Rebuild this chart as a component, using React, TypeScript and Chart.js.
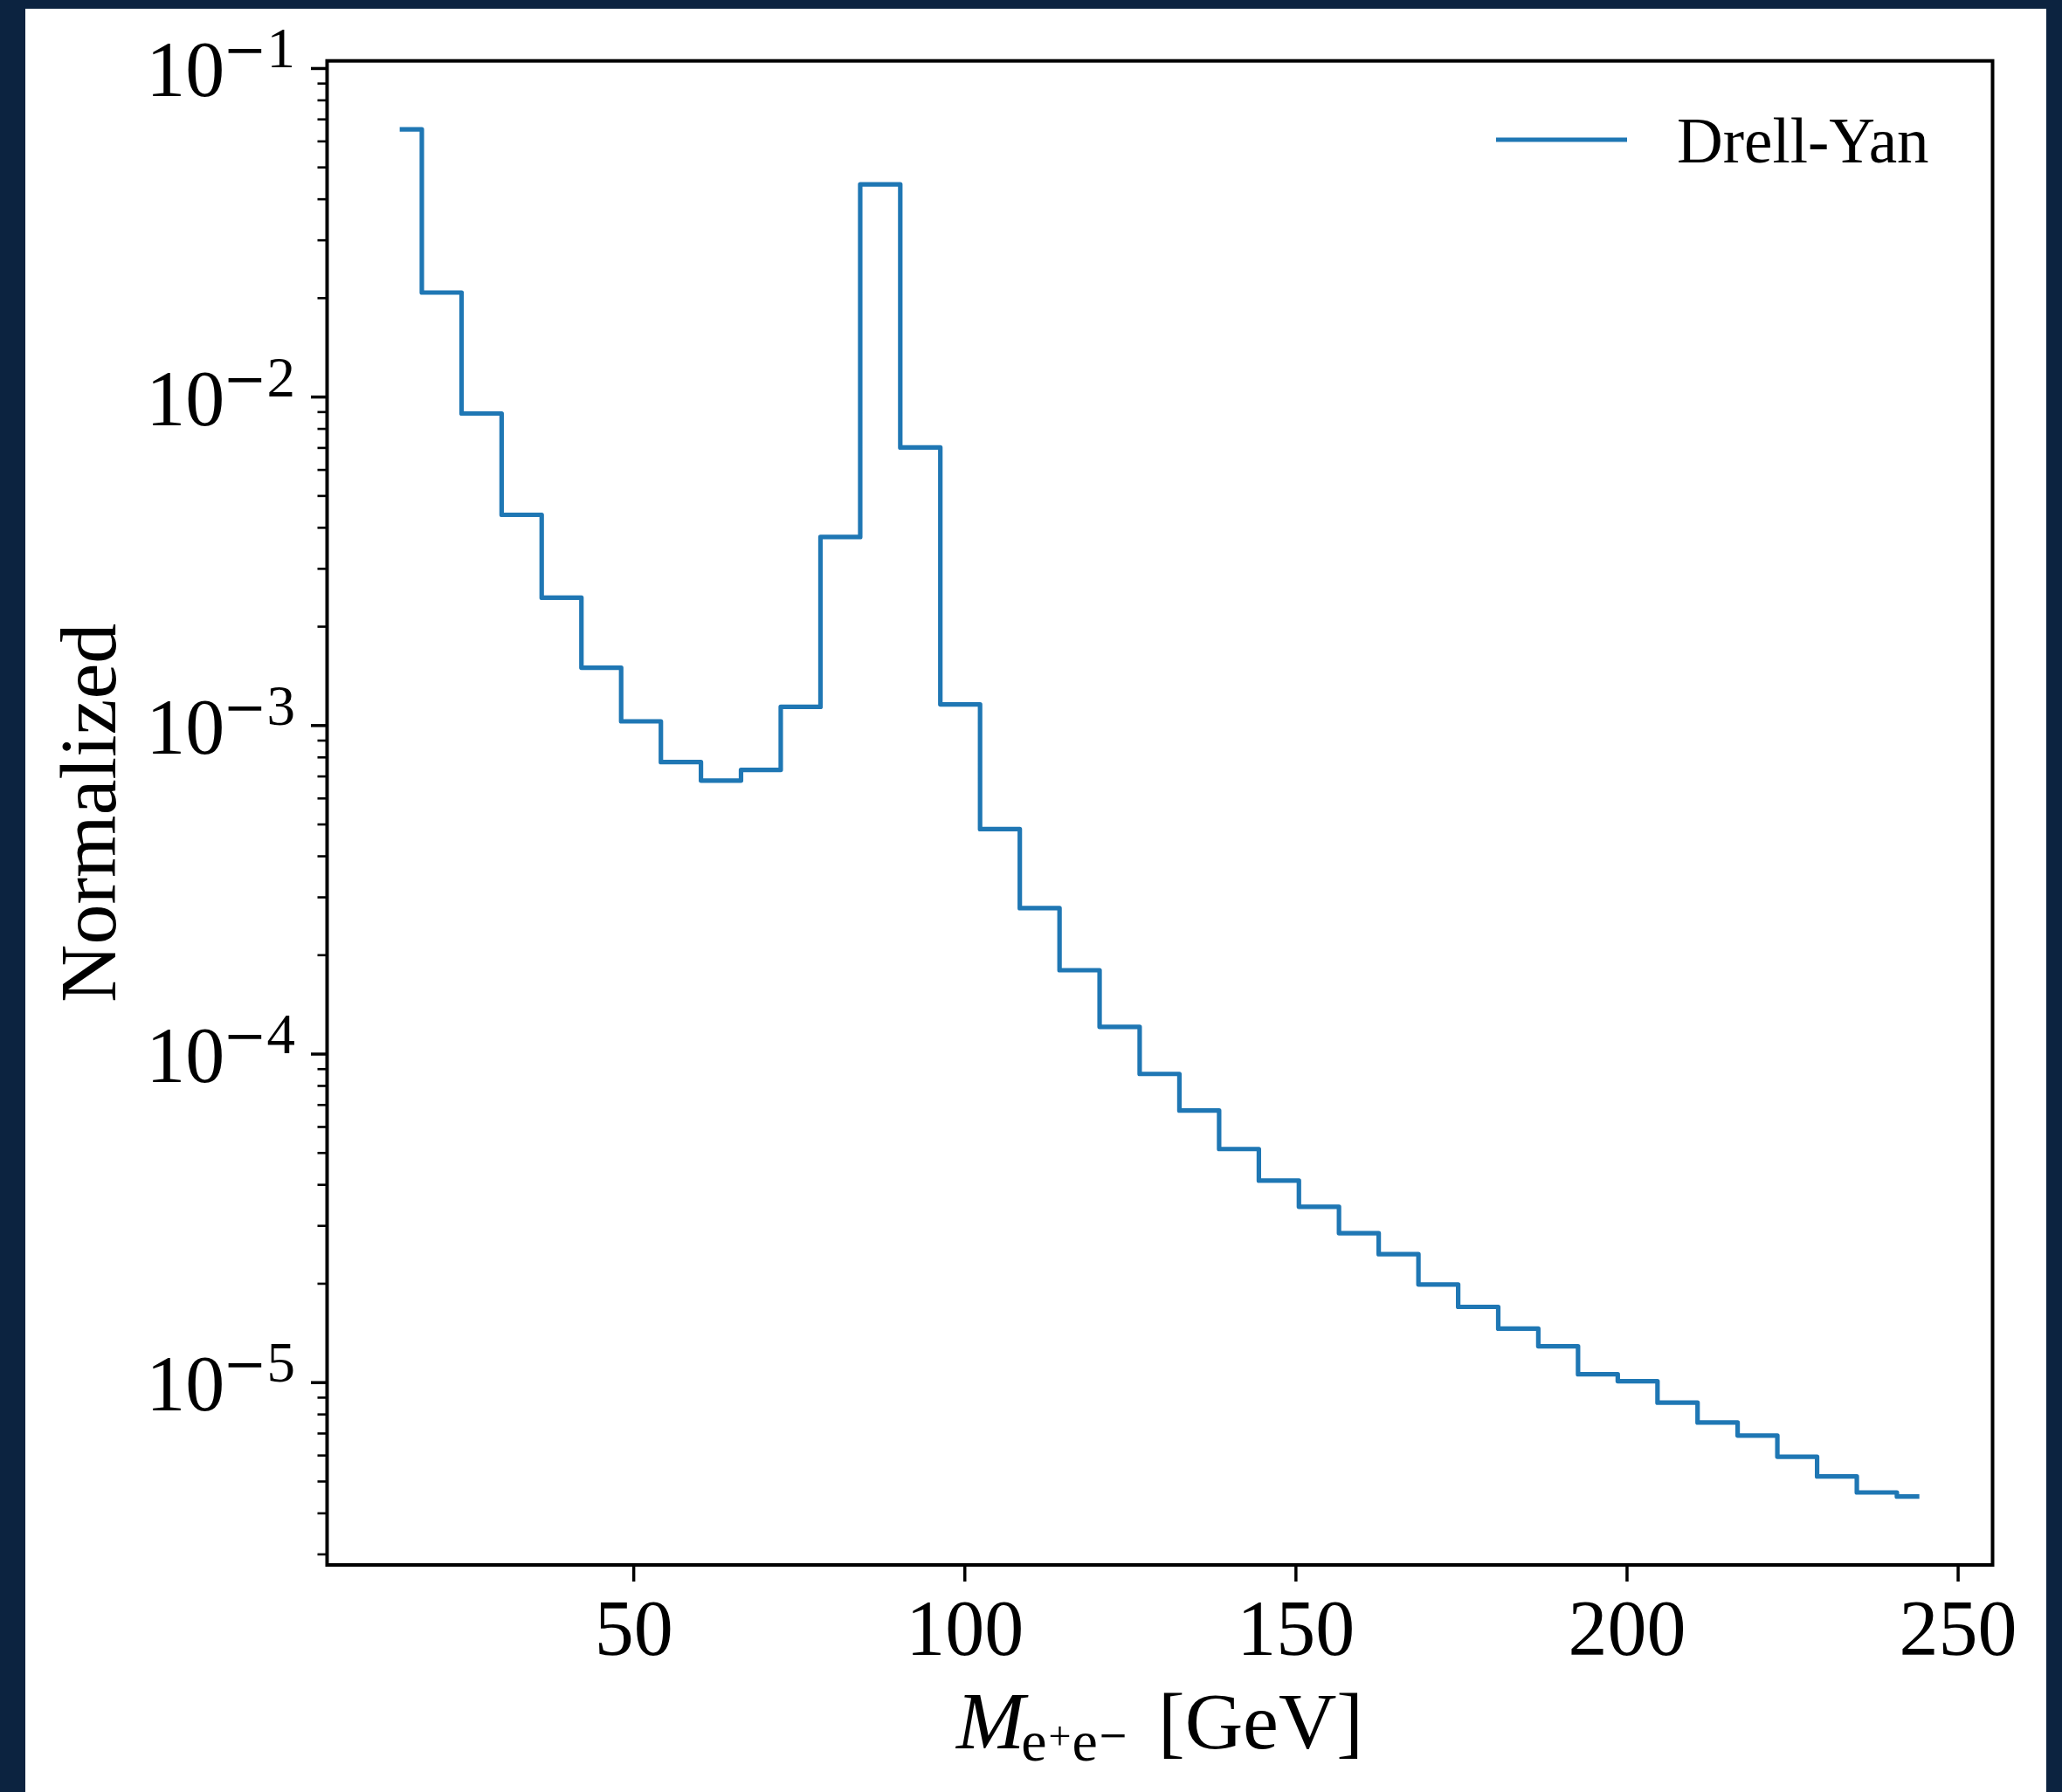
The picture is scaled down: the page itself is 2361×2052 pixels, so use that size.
import React, { useEffect, useRef } from "react";
import { Chart, registerables } from "chart.js";

Chart.register(...registerables);

// ---- data ----
const massCenters = [
  15.0, 21.0, 27.0, 33.1, 39.1, 45.1, 51.1, 57.1, 63.2, 69.2,
  75.2, 81.2, 87.2, 93.3, 99.3, 105.3, 111.3, 117.3, 123.4, 129.4,
  135.4, 141.4, 147.4, 153.5, 159.5, 165.5, 171.5, 177.5, 183.6, 189.6,
  195.6, 201.6, 207.6, 213.7, 219.7, 225.7, 231.7, 237.7, 243.8,
];
const drellYan = [
  0.0653, 0.0208, 0.00891, 0.00438, 0.00245, 0.0015, 0.00103, 0.000774, 0.00068, 0.000733,
  0.00114, 0.00375, 0.0444, 0.00702, 0.00116, 0.000484, 0.000278, 0.00018, 0.000121, 8.7e-5,
  6.73e-5, 5.14e-5, 4.12e-5, 3.43e-5, 2.85e-5, 2.46e-5, 1.99e-5, 1.7e-5, 1.46e-5, 1.29e-5,
  1.06e-5, 1.01e-5, 8.69e-6, 7.56e-6, 6.9e-6, 5.95e-6, 5.18e-6, 4.63e-6, 4.5e-6,
];
const seriesLabel = "Drell-Yan";
const xTickValues = [50, 100, 150, 200, 250];
const xTickLabels = ["50", "100", "150", "200", "250"];
const yDecadeExponents = [-1, -2, -3, -4, -5];
const yDecadeLabels = ["1", "2", "3", "4", "5"];
const yMinorMultipliers = [2, 3, 4, 5, 6, 7, 8, 9];
const yTitle = "Normalized";
const X_MIN = 3.69;
const X_MAX = 255.2;
const Y_MIN = 2.786e-6;
const Y_MAX = 0.1055;

const LINE_COLOR = "#1f77b4";
const SERIF = "'Liberation Serif'";

const decorPlugin = {
  id: "mplDecor",
  afterDraw(chart: any) {
    const { ctx, chartArea: a } = chart;
    const xs = chart.scales.x;
    const ys = chart.scales.y;
    ctx.save();
    ctx.strokeStyle = "#000";
    ctx.fillStyle = "#000";
    ctx.lineCap = "butt";

    // x ticks
    ctx.lineWidth = 3.5;
    for (const v of xTickValues) {
      const px = xs.getPixelForValue(v);
      ctx.beginPath();
      ctx.moveTo(px, a.bottom);
      ctx.lineTo(px, a.bottom + 19);
      ctx.stroke();
    }
    // y major ticks
    for (const e of yDecadeExponents) {
      const py = ys.getPixelForValue(Math.pow(10, e));
      ctx.beginPath();
      ctx.moveTo(a.left - 18.5, py);
      ctx.lineTo(a.left, py);
      ctx.stroke();
    }
    // y minor ticks
    ctx.lineWidth = 2.6;
    for (let e = -6; e <= -1; e++) {
      for (const m of yMinorMultipliers) {
        const v = m * Math.pow(10, e);
        if (v < Y_MIN || v > Y_MAX) continue;
        const py = ys.getPixelForValue(v);
        ctx.beginPath();
        ctx.moveTo(a.left - 11, py);
        ctx.lineTo(a.left, py);
        ctx.stroke();
      }
    }
    // frame
    ctx.lineWidth = 4;
    ctx.lineJoin = "miter";
    ctx.strokeRect(a.left, a.top, a.right - a.left, a.bottom - a.top);

    // x tick labels
    ctx.font = `90px ${SERIF}`;
    ctx.textAlign = "center";
    ctx.textBaseline = "alphabetic";
    xTickValues.forEach((v, i) => {
      ctx.fillText(xTickLabels[i], xs.getPixelForValue(v), 1895);
    });

    // y tick labels: 10^{-n}
    ctx.textAlign = "left";
    yDecadeExponents.forEach((e, i) => {
      const py = ys.getPixelForValue(Math.pow(10, e));
      ctx.font = `90px ${SERIF}`;
      const wBase = ctx.measureText("10").width;
      ctx.font = "60px 'DejaVu Serif'";
      const wMinus = ctx.measureText("\u2212").width;
      ctx.font = `65px ${SERIF}`;
      const wDigit = ctx.measureText(yDecadeLabels[i]).width;
      const right = 338;
      const start = right - (wBase - 2 + wMinus + wDigit);
      ctx.font = `90px ${SERIF}`;
      ctx.fillText("10", start, py + 32);
      ctx.font = "60px 'DejaVu Serif'";
      ctx.fillText("\u2212", start + wBase - 2, py - 1);
      ctx.font = `65px ${SERIF}`;
      ctx.fillText(yDecadeLabels[i], start + wBase - 2 + wMinus, py - 1);
    });

    // y title
    ctx.save();
    ctx.translate(132, (a.top + a.bottom) / 2);
    ctx.rotate(-Math.PI / 2);
    ctx.font = `92px ${SERIF}`;
    ctx.textAlign = "center";
    ctx.fillText(yTitle, 0, 0);
    ctx.restore();

    // x title: M_{e+e-} [GeV]
    ctx.textAlign = "left";
    const runs = [
      { t: "M", f: `italic 94px ${SERIF}`, y: 2002, dx: 0 },
      { t: "e", f: `66px ${SERIF}`, y: 2016, dx: -4 },
      { t: "+", f: `46px ${SERIF}`, y: 2003, dx: 2 },
      { t: "e", f: `66px ${SERIF}`, y: 2016, dx: 1 },
      { t: "\u2212", f: "42px 'DejaVu Serif'", y: 2001, dx: 0 },
      { t: "[GeV]", f: `92px ${SERIF}`, y: 2002, dx: 34 },
    ];
    let total = 0;
    for (const r of runs) {
      ctx.font = r.f;
      total += r.dx + ctx.measureText(r.t).width;
    }
    let cx = (a.left + a.right) / 2 - total / 2;
    for (const r of runs) {
      ctx.font = r.f;
      cx += r.dx;
      ctx.fillText(r.t, cx, r.y);
      cx += ctx.measureText(r.t).width;
    }

    // legend
    ctx.strokeStyle = LINE_COLOR;
    ctx.lineWidth = 5.2;
    ctx.lineCap = "butt";
    ctx.beginPath();
    ctx.moveTo(1713, 160);
    ctx.lineTo(1863, 160);
    ctx.stroke();
    ctx.font = `73px ${SERIF}`;
    ctx.fillStyle = "#000";
    ctx.fillText(seriesLabel, 1920, 186);

    ctx.restore();
  },
};

export default function App() {
  const canvasRef = useRef<HTMLCanvasElement | null>(null);

  useEffect(() => {
    document.body.style.margin = "0";
    document.body.style.overflow = "hidden";
    const canvas = canvasRef.current;
    if (!canvas) return;
    const chart = new Chart(canvas, {
      type: "line",
      data: {
        datasets: [
          {
            label: seriesLabel,
            data: massCenters.map((m, i) => ({ x: m, y: drellYan[i] })),
            stepped: "middle",
            borderColor: LINE_COLOR,
            backgroundColor: LINE_COLOR,
            borderWidth: 5.2,
            borderCapStyle: "square",
            borderJoinStyle: "round",
            pointRadius: 0,
            fill: false,
          },
        ],
      },
      options: {
        responsive: false,
        maintainAspectRatio: false,
        devicePixelRatio: 1,
        animation: false,
        layout: { padding: { left: 374.5, top: 69.7, right: 79.5, bottom: 260 } },
        plugins: { legend: { display: false }, tooltip: { enabled: false } },
        scales: {
          x: { type: "linear", min: X_MIN, max: X_MAX, display: false },
          y: { type: "logarithmic", min: Y_MIN, max: Y_MAX, display: false },
        },
      } as any,
      plugins: [decorPlugin],
    } as any);
    return () => chart.destroy();
  }, []);

  return (
    <div style={{ position: "absolute", left: 0, top: 0, width: 2361, height: 2052, background: "#0c2340" }}>
      <div style={{ position: "absolute", left: 29, top: 10, width: 2314, height: 2042, background: "#ffffff" }} />
      <canvas
        ref={canvasRef}
        width={2361}
        height={2052}
        style={{ position: "absolute", left: 0, top: 0, width: 2361, height: 2052 }}
      />
    </div>
  );
}
